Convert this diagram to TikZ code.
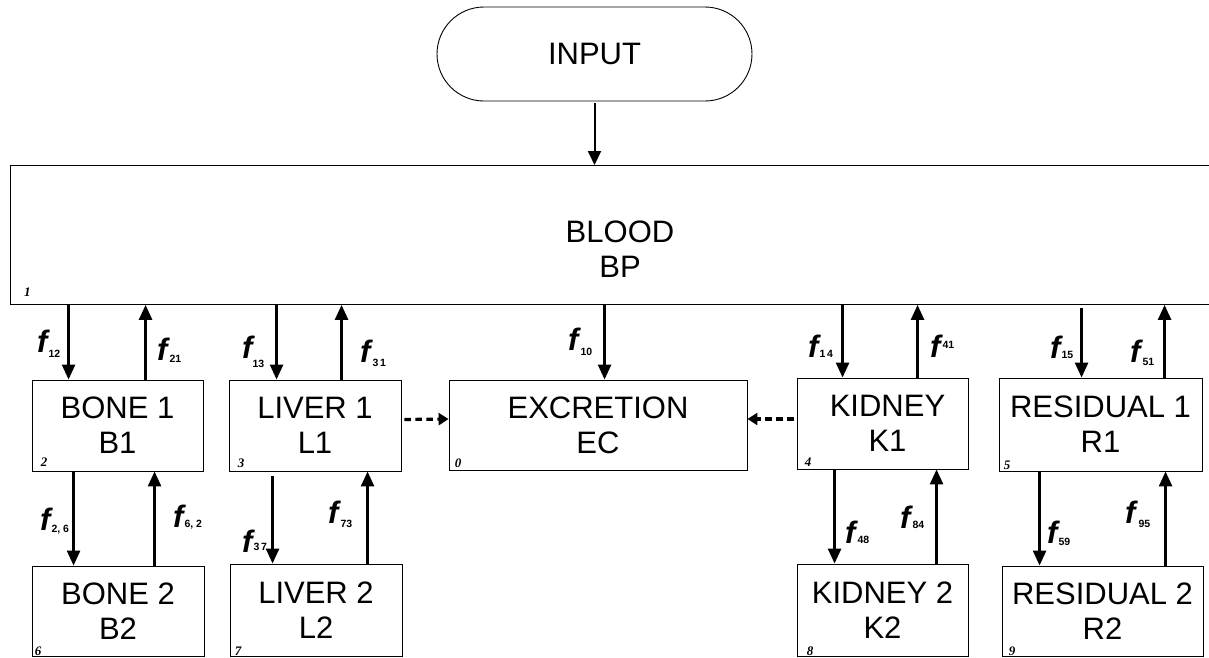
\documentclass[tikz,border=0pt]{standalone}
\usepackage{fontspec}
\setmainfont{Liberation Sans}
\newfontfamily\numfont{Liberation Serif}
\usetikzlibrary{arrows.meta}
\newcommand{\fsub}[2]{\raisebox{#1pt}{\fontsize{10.5}{10.5}\selectfont\upshape\bfseries #2}}
\begin{document}
\begin{tikzpicture}[x=1pt,y=-1pt,
  box/.style={draw=black, line width=0.9pt, inner sep=0pt, align=center, font=\fontsize{31}{35}\selectfont},
  txt/.style={inner sep=0pt, align=center, font=\fontsize{31}{35}\selectfont},
  arr/.style={line width=2.6pt, -{Triangle[length=15pt,width=13pt]}},
  inarr/.style={line width=2pt, -{Triangle[length=14pt,width=13pt]}},
  dasharr/.style={line width=3.2pt, dash pattern=on 6.5pt off 4.5pt, -{Triangle[length=10pt,width=12pt]}},
  flab/.style={anchor=base west, inner sep=0pt, font=\fontsize{31}{31}\selectfont\bfseries\itshape},
  num/.style={anchor=south west, inner sep=0pt, font=\numfont\itshape\bfseries\fontsize{13}{13}\selectfont}
]
\useasboundingbox (0,0) rectangle (1209,657);

% input
\node[box, minimum width=315pt, minimum height=94pt, rounded corners=47pt] (inp) at (594.5,54) {INPUT};

% blood
\node[box, minimum width=1210pt, minimum height=139pt, anchor=north west] (blood) at (10,165) {};
\node[txt] (bloodtxt) at (620,249) {BLOOD\\BP};
\node[num, xshift=14pt, yshift=8pt] (n1) at (blood.south west) {1};

% first row
\node[box, minimum width=171pt, minimum height=91pt] (b1) at (117.5,425.5) {BONE 1\\B1};
\node[box, minimum width=172pt, minimum height=91pt] (l1) at (315,425.5) {LIVER 1\\L1};
\node[box, minimum width=298pt, minimum height=90pt] (ec) at (598,425) {EXCRETION\\EC};
\node[box, minimum width=171pt, minimum height=91pt] (k1) at (882.5,423.5) {\hspace*{10pt}KIDNEY\\\hspace*{10pt}K1};
\node[box, minimum width=203pt, minimum height=93pt] (r1) at (1100.5,424.5) {RESIDUAL 1\\R1};

% second row
\node[box, minimum width=172pt, minimum height=90pt] (b2) at (118,611) {BONE 2\\B2};
\node[box, minimum width=172pt, minimum height=92pt] (l2) at (316,610) {LIVER 2\\L2};
\node[box, minimum width=171pt, minimum height=92pt] (k2) at (882.5,610) {KIDNEY 2\\K2};
\node[box, minimum width=201pt, minimum height=90pt] (r2) at (1102.5,611) {RESIDUAL 2\\R2};

% corner numbers
\node[num, xshift=9pt, yshift=5pt] (n2) at (b1.south west) {2};
\node[num, xshift=9pt, yshift=4pt] (n3) at (l1.south west) {3};
\node[num, xshift=6pt, yshift=3pt] (n0) at (ec.south west) {0};
\node[num, xshift=8pt, yshift=3pt] (n4) at (k1.south west) {4};
\node[num, xshift=5pt, yshift=2pt] (n5) at (r1.south west) {5};
\node[num, xshift=3pt, yshift=1pt] (n6) at (b2.south west) {6};
\node[num, xshift=5pt, yshift=1pt] (n7) at (l2.south west) {7};
\node[num, xshift=10pt, yshift=1pt] (n8) at (k2.south west) {8};
\node[num, xshift=7pt, yshift=1pt] (n9) at (r2.south west) {9};

% input arrow
\draw[inarr, shorten <=2pt] (inp.south) -- (inp.south |- blood.north);

% arrow coordinates, blood <-> first row
\coordinate (c12) at ([xshift=37pt]b1.north west);
\coordinate (c21) at ([xshift=114pt]b1.north west);
\coordinate (c13) at ([xshift=48pt]l1.north west);
\coordinate (c31) at ([xshift=113pt]l1.north west);
\coordinate (c10) at ([xshift=156pt]ec.north west);
\coordinate (c14) at ([xshift=46pt]k1.north west);
\coordinate (c41) at ([xshift=121pt]k1.north west);
\coordinate (c15) at ([xshift=83pt]r1.north west);
\coordinate (c51) at ([xshift=166pt]r1.north west);

\draw[arr] (c12 |- blood.south) -- (c12);
\draw[arr] (c21) -- (c21 |- blood.south);
\draw[arr] (c13 |- blood.south) -- (c13);
\draw[arr] (c31) -- (c31 |- blood.south);
\draw[arr] (c10 |- blood.south) -- (c10);
\draw[arr] (c14 |- blood.south) -- (c14);
\draw[arr] (c41) -- (c41 |- blood.south);
\draw[arr, shorten <=3pt] (c15 |- blood.south) -- (c15);
\draw[arr] (c51) -- (c51 |- blood.south);

% first row <-> second row
\coordinate (c26) at ([xshift=42pt]b2.north west);
\coordinate (c62) at ([xshift=123pt]b2.north west);
\coordinate (c37) at ([xshift=43pt]l2.north west);
\coordinate (c73) at ([xshift=138pt]l2.north west);
\coordinate (c48) at ([xshift=38pt]k2.north west);
\coordinate (c84) at ([xshift=140pt]k2.north west);
\coordinate (c59) at ([xshift=38pt]r2.north west);
\coordinate (c95) at ([xshift=164pt]r2.north west);

\draw[arr] (c26 |- b1.south) -- (c26);
\draw[arr] (c62) -- (c62 |- b1.south);
\draw[arr, shorten <=5pt] (c37 |- l1.south) -- (c37);
\draw[arr] (c73) -- (c73 |- l1.south);
\draw[arr] (c48 |- k1.south) -- (c48);
\draw[arr] (c84) -- (c84 |- k1.south);
\draw[arr] (c59 |- r1.south) -- (c59);
\draw[arr] (c95) -- (c95 |- r1.south);

% dashed arrows to excretion
\draw[dasharr, shorten <=3pt] ([yshift=6pt]l1.east) -- ([yshift=6pt]ec.west);
\draw[dasharr, shorten <=3pt] ([yshift=4.5pt]k1.west) -- ([yshift=6pt]ec.east);

% flow labels
\node[flab] (f12) at (37,352) {f\kern1pt\fsub{-5}{12}};
\node[flab] (f21) at (157,360) {f\kern2pt\fsub{-2}{21}};
\node[flab] (f13) at (242,358) {f\kern0pt\fsub{-9}{13}};
\node[flab] (f31) at (360,362) {f\kern2pt\fsub{-4}{3\,1}};
\node[flab] (f10) at (568,350) {f\kern2pt\fsub{-5}{10}};
\node[flab] (f14) at (808,357) {f\kern1pt\fsub{0}{1\,4}};
\node[flab] (f41) at (930,357) {f\kern2pt\fsub{9}{41}};
\node[flab] (f15) at (1050,358) {f\kern1pt\fsub{0}{15}};
\node[flab] (f51) at (1130,362) {f\kern2pt\fsub{-3}{51}};
\node[flab] (f26) at (40,530) {f\kern1pt\fsub{-2}{2, 6}};
\node[flab] (f62) at (173,527) {f\kern1pt\fsub{0}{6, 2}};
\node[flab] (f37) at (242,552) {f\kern1pt\fsub{2}{3\,7}};
\node[flab] (f73) at (328,523) {f\kern2pt\fsub{-4}{73}};
\node[flab] (f48) at (845,543) {f\kern2pt\fsub{0}{48}};
\node[flab] (f84) at (900,528) {f\kern2pt\fsub{0}{84}};
\node[flab] (f59) at (1047,543) {f\kern1pt\fsub{-2}{59}};
\node[flab] (f95) at (1125,523) {f\kern3pt\fsub{-4}{95}};
\end{tikzpicture}
\end{document}
